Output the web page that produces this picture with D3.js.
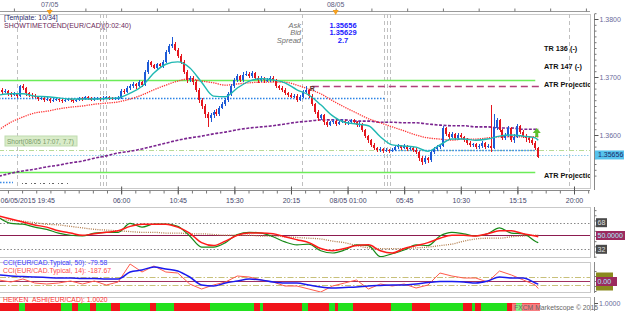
<!DOCTYPE html>
<html><head><meta charset="utf-8">
<script src="https://cdn.jsdelivr.net/npm/d3@7"></script>
<style>body{margin:0;background:#fff}svg{display:block}text{font-family:"Liberation Sans",Arial,sans-serif}</style>
</head><body><svg id="c" width="625" height="311"></svg>
<script>
// ---------- DATA ----------
const opens = [1.3680,1.3678,1.3674,1.3676,1.3671,1.3669,1.3671,1.3667,1.3684,1.3681,
1.3672,1.3669,1.3667,1.3666,1.3662,1.3664,1.3660,1.3662,1.3659,1.3660,
1.3662,1.3660,1.3659,1.3660,1.3662,1.3660,1.3659,1.3660,1.3664,1.3662,
1.3666,1.3664,1.3660,1.3662,1.3664,1.3662,1.3664,1.3666,1.3664,1.3662,
1.3664,1.3664,1.3676,1.3674,1.3681,1.3684,1.3688,1.3684,1.3691,1.3686,
1.3709,1.3726,1.3721,1.3716,1.3722,1.3719,1.3726,1.3743,1.3753,1.3757,
1.3747,1.3736,1.3726,1.3709,1.3695,1.3698,1.3691,1.3678,1.3660,1.3650,
1.3636,1.3629,1.3634,1.3640,1.3636,1.3647,1.3653,1.3660,1.3671,1.3684,
1.3695,1.3701,1.3695,1.3704,1.3706,1.3702,1.3707,1.3699,1.3695,1.3697,
1.3694,1.3695,1.3698,1.3694,1.3684,1.3681,1.3678,1.3672,1.3669,1.3666,
1.3667,1.3660,1.3666,1.3674,1.3678,1.3667,1.3653,1.3640,1.3629,1.3634,
1.3622,1.3617,1.3622,1.3624,1.3619,1.3622,1.3624,1.3621,1.3622,1.3626,
1.3622,1.3617,1.3619,1.3609,1.3598,1.3591,1.3583,1.3578,1.3574,1.3576,
1.3572,1.3574,1.3572,1.3574,1.3579,1.3581,1.3578,1.3581,1.3576,1.3578,
1.3574,1.3571,1.3560,1.3553,1.3560,1.3557,1.3571,1.3576,1.3579,1.3581,
1.3612,1.3602,1.3597,1.3602,1.3595,1.3600,1.3597,1.3591,1.3586,1.3583,
1.3584,1.3579,1.3581,1.3586,1.3579,1.3581,1.3578,1.3612,1.3626,1.3609,
1.3595,1.3600,1.3612,1.3591,1.3597,1.3615,1.3605,1.3598,1.3595,1.3591,
1.3586,1.3578];
const highs = [1.3684,1.3681,1.3679,1.3678,1.3674,1.3674,1.3673,1.3687,1.3688,1.3683,
1.3675,1.3672,1.3670,1.3668,1.3667,1.3666,1.3665,1.3664,1.3663,1.3664,
1.3664,1.3662,1.3663,1.3664,1.3664,1.3662,1.3662,1.3666,1.3666,1.3668,
1.3668,1.3666,1.3665,1.3666,1.3666,1.3667,1.3668,1.3668,1.3666,1.3666,
1.3667,1.3679,1.3680,1.3684,1.3688,1.3691,1.3690,1.3694,1.3693,1.3712,
1.3729,1.3728,1.3723,1.3725,1.3725,1.3729,1.3746,1.3757,1.3769,1.3760,
1.3750,1.3739,1.3729,1.3712,1.3702,1.3701,1.3694,1.3681,1.3663,1.3653,
1.3640,1.3638,1.3643,1.3644,1.3650,1.3657,1.3664,1.3674,1.3688,1.3699,
1.3705,1.3704,1.3708,1.3710,1.3709,1.3710,1.3709,1.3702,1.3701,1.3700,
1.3699,1.3702,1.3701,1.3696,1.3687,1.3684,1.3681,1.3675,1.3672,1.3670,
1.3670,1.3669,1.3677,1.3684,1.3680,1.3670,1.3656,1.3643,1.3637,1.3636,
1.3625,1.3625,1.3627,1.3626,1.3625,1.3627,1.3626,1.3625,1.3628,1.3628,
1.3624,1.3622,1.3621,1.3611,1.3600,1.3593,1.3586,1.3580,1.3579,1.3578,
1.3577,1.3576,1.3577,1.3582,1.3584,1.3583,1.3584,1.3583,1.3581,1.3580,
1.3577,1.3573,1.3563,1.3563,1.3562,1.3574,1.3579,1.3582,1.3584,1.3615,
1.3614,1.3605,1.3606,1.3604,1.3603,1.3603,1.3599,1.3594,1.3589,1.3587,
1.3586,1.3584,1.3589,1.3588,1.3584,1.3652,1.3636,1.3630,1.3628,1.3611,
1.3604,1.3616,1.3614,1.3601,1.3619,1.3617,1.3608,1.3601,1.3598,1.3594,
1.3589,1.3580];
const lows = [1.3674,1.3671,1.3672,1.3668,1.3666,1.3667,1.3663,1.3665,1.3678,1.3668,
1.3666,1.3664,1.3663,1.3659,1.3660,1.3657,1.3658,1.3656,1.3657,1.3658,
1.3657,1.3656,1.3657,1.3658,1.3657,1.3656,1.3657,1.3658,1.3659,1.3660,
1.3661,1.3658,1.3658,1.3660,1.3659,1.3660,1.3662,1.3661,1.3660,1.3660,
1.3661,1.3662,1.3671,1.3672,1.3678,1.3681,1.3680,1.3682,1.3682,1.3684,
1.3706,1.3718,1.3713,1.3714,1.3716,1.3716,1.3724,1.3740,1.3750,1.3744,
1.3733,1.3722,1.3705,1.3690,1.3692,1.3686,1.3674,1.3656,1.3645,1.3630,
1.3614,1.3622,1.3630,1.3632,1.3633,1.3644,1.3650,1.3657,1.3668,1.3681,
1.3692,1.3691,1.3692,1.3701,1.3699,1.3699,1.3695,1.3690,1.3692,1.3690,
1.3691,1.3692,1.3691,1.3681,1.3677,1.3675,1.3669,1.3665,1.3663,1.3663,
1.3657,1.3658,1.3664,1.3672,1.3664,1.3650,1.3636,1.3625,1.3626,1.3618,
1.3613,1.3615,1.3619,1.3616,1.3617,1.3620,1.3618,1.3618,1.3620,1.3619,
1.3614,1.3614,1.3605,1.3594,1.3587,1.3579,1.3574,1.3570,1.3571,1.3569,
1.3570,1.3569,1.3570,1.3572,1.3576,1.3575,1.3576,1.3573,1.3574,1.3571,
1.3567,1.3556,1.3548,1.3550,1.3551,1.3554,1.3568,1.3573,1.3576,1.3579,
1.3599,1.3593,1.3594,1.3591,1.3592,1.3593,1.3588,1.3583,1.3579,1.3580,
1.3576,1.3576,1.3578,1.3576,1.3577,1.3570,1.3576,1.3609,1.3605,1.3591,
1.3592,1.3597,1.3588,1.3587,1.3594,1.3601,1.3594,1.3588,1.3587,1.3583,
1.3574,1.3560];
const closes = [1.3678,1.3674,1.3676,1.3671,1.3669,1.3671,1.3667,1.3684,1.3681,1.3672,
1.3669,1.3667,1.3666,1.3662,1.3664,1.3660,1.3662,1.3659,1.3660,1.3662,
1.3660,1.3659,1.3660,1.3662,1.3660,1.3659,1.3660,1.3664,1.3662,1.3666,
1.3664,1.3660,1.3662,1.3664,1.3662,1.3664,1.3666,1.3664,1.3662,1.3664,
1.3664,1.3676,1.3674,1.3681,1.3684,1.3688,1.3684,1.3691,1.3686,1.3709,
1.3726,1.3721,1.3716,1.3722,1.3719,1.3726,1.3743,1.3753,1.3757,1.3747,
1.3736,1.3726,1.3709,1.3695,1.3698,1.3691,1.3678,1.3660,1.3650,1.3636,
1.3629,1.3634,1.3640,1.3636,1.3647,1.3653,1.3660,1.3671,1.3684,1.3695,
1.3701,1.3695,1.3704,1.3706,1.3702,1.3707,1.3699,1.3695,1.3697,1.3694,
1.3695,1.3698,1.3694,1.3684,1.3681,1.3678,1.3672,1.3669,1.3666,1.3667,
1.3660,1.3666,1.3674,1.3678,1.3667,1.3653,1.3640,1.3629,1.3634,1.3622,
1.3617,1.3622,1.3624,1.3619,1.3622,1.3624,1.3621,1.3622,1.3626,1.3622,
1.3617,1.3619,1.3609,1.3598,1.3591,1.3583,1.3578,1.3574,1.3576,1.3572,
1.3574,1.3572,1.3574,1.3579,1.3581,1.3578,1.3581,1.3576,1.3578,1.3574,
1.3571,1.3560,1.3553,1.3560,1.3557,1.3571,1.3576,1.3579,1.3581,1.3612,
1.3602,1.3597,1.3602,1.3595,1.3600,1.3597,1.3591,1.3586,1.3583,1.3584,
1.3579,1.3581,1.3586,1.3579,1.3581,1.3578,1.3612,1.3626,1.3609,1.3595,
1.3600,1.3612,1.3591,1.3597,1.3615,1.3605,1.3598,1.3595,1.3591,1.3586,
1.3578,1.35629];

// indicator sample bars
const maIdx = [0,4,8,12,16,20,24,28,32,36,40,44,48,52,56,60,64,68,72,76,80,84,88,92,96,100,
104,108,112,116,120,124,128,132,136,140,144,148,152,156,160,164,168,172,176,180,181];
const maFast = [1.3669,1.3671,1.3671,1.3667,1.3666,1.3664,1.3662,1.3662,1.3662,1.3663,1.3664,1.3672,
1.3684,1.3707,1.3722,1.3726,1.3716,1.3691,1.3667,1.3666,1.3681,1.3693,1.3697,1.3695,1.3690,1.3678,
1.3669,1.3652,1.3633,1.3622,1.3619,1.3616,1.3597,1.3583,1.3581,1.3579,1.3572,1.3583,1.3593,1.3593,
1.3591,1.3593,1.3598,1.3600,1.3598,1.3595,1.3591];
const maMid = [1.3609,1.3622,1.3631,1.3638,1.3641,1.3645,1.3648,1.3650,1.3653,1.3655,1.3657,1.3662,
1.3669,1.3678,1.3686,1.3693,1.3697,1.3693,1.3690,1.3686,1.3688,1.3690,1.3691,1.3691,1.3691,1.3686,
1.3679,1.3671,1.3659,1.3648,1.3638,1.3628,1.3621,1.3614,1.3607,1.3600,1.3595,1.3593,1.3591,1.3593,
1.3593,1.3595,1.3597,1.3597,1.3597,1.3597,1.3597];
const maSlow = [1.3529,1.3534,1.3538,1.3541,1.3545,1.3548,1.3552,1.3555,1.3560,1.3564,1.3569,1.3572,
1.3576,1.3581,1.3586,1.3591,1.3595,1.3598,1.3602,1.3605,1.3609,1.3612,1.3614,1.3616,1.3619,1.3622,
1.3624,1.3626,1.3626,1.3626,1.3624,1.3624,1.3622,1.3622,1.3621,1.3621,1.3619,1.3617,1.3616,1.3616,
1.3614,1.3614,1.3612,1.3612,1.3610,1.3610,1.3610];
const oscFast = [75,67,66,62,59,54,51,50,54,55,55,67,62,66,66,63,50,35,35,41,52,55,54,49,42,38,39,30,
27,31,38,37,22,26,31,38,37,50,55,53,50,53,61,54,53,43,41];
const oscMid = [77,73,69,65,62,57,54,51,53,55,57,63,66,66,66,62,54,41,37,43,51,54,54,53,49,45,41,33,
30,33,37,38,30,27,33,37,41,47,51,51,50,53,57,57,53,50,49];
const oscSlow = [73,71,70,68,66,65,63,61,59,58,57,56,55,55,54,54,53,53,52,51,51,51,50,50,49,48,47,46,
43,41,37,34,33,33,33,34,35,37,39,43,46,47,47,49,50,51,51];
const cci50 = [150,125,112,100,88,75,75,62,62,50,50,225,275,350,300,250,100,-100,-125,-50,0,50,25,-25,
-50,-50,-100,-150,-175,-162,-150,-125,-112,-100,-100,-75,-38,-12,-12,-25,-50,0,100,75,75,-50,-79.58];
const cci14 = [25,-25,50,-50,-75,-50,0,-75,0,-100,-25,425,225,375,225,200,-75,-200,-100,-25,125,100,25,
-25,-125,-125,-200,-275,-125,-50,25,-200,-75,-125,-75,-175,-100,200,125,75,75,-25,250,150,25,-100,-187.67];
const haColors = "RRRRRRR GG RRRRRRRRRRRR GGGG RR GGGG RR GGGGG RRR GGGGGGGGGG RR GGGGGG RRRRRRRRRRRR GGGGGGGGGGGGGGG RR G RRRRRRRRRRRRR GG RRRRRRR GG R GGGGG RRRRRRRRRRRRR GGGGGGG RRRRRR GGGGGGGGGGG RRR G RR GGGGGGGGG RRR GG RRRRRR";

// levels: price, from bar, to bar
const atrUpper = [1.36948, 0, 180];
const atrLower = [1.35362, 0, 180];
const rLevel = [1.36845, 105, 181.6];
const blueLevel1 = [1.36638, 0, 129.5];
const blueLevel2 = [1.35741, 131, 180];
const entryLevel = [1.35733, 0, 200];
const askLevel = [1.35656, 0, 200];
const sessionBars = [6, 33.9, 34.9, 35.9, 101.7, 129.2, 130.2, 131.2, 191.3];

const priceTicks = [1.38, 1.37, 1.36];
const oscLevels = [68, 32];
const timeLabelBars = [0, 41, 60, 79, 98, 117, 136, 155, 174, 193];
const timeLabels = ["06/05/2015 19:45","06:00","10:45","15:30","20:15","08/05 01:00","05:45","10:30","15:15","20:00"];
const dayBars = [17, 113];
const dayLabels = ["07/05","08/05"];
const quoteNames = ["Ask","Bid","Spread"];
const quoteValues = ["1.35656","1.35629","2.7"];
const atrTexts = ["TR 136 (-)","ATR 147 (-)","ATR Projection","ATR Projection"];

// ---------- DRAW ----------
const svg = d3.select('#c');
svg.append('rect').attr('width',625).attr('height',311).attr('fill','#fff');
const F = '"Liberation Sans",Arial,sans-serif';
const x = d3.scaleLinear().domain([0,193]).range([-1,574]);
const y = d3.scaleLinear().domain([1.36,1.38]).range([135,19]);
const yO = d3.scaleLinear().domain([32,68]).range([249.3,222.7]);
const yC = d3.scaleLinear().domain([0,100]).range([281,277]);
const R = 590;

const defs = svg.append('defs');
function clip(id, y0, y1){ defs.append('clipPath').attr('id',id).append('rect').attr('x',0).attr('y',y0).attr('width',R).attr('height',y1-y0); }
clip('cm',14,188); clip('c1',207,257); clip('c2',262,292); clip('c3',297,311);

// frames
[[14,188],[207,257],[262,292],[297,312]].forEach(([a,b])=>{
  svg.append('rect').attr('x',-1).attr('y',a+0.5).attr('width',R+1.5).attr('height',b-a).attr('fill','none').attr('stroke','#c9c9c9');
});

// top axis
svg.append('line').attr('x1',0).attr('x2',R).attr('y1',11.5).attr('y2',11.5).attr('stroke','#9a9a9a');
const topAx = svg.append('g').attr('transform','translate(0,11.5)')
  .call(d3.axisTop(x).tickValues(d3.range(5,198,12)).tickSize(3).tickFormat(''));
topAx.select('.domain').remove(); topAx.selectAll('line').attr('stroke','#777');
dayBars.forEach((b,i)=>{
  svg.append('text').attr('x',x(b)).attr('y',7).attr('text-anchor','middle').attr('font-size',7).attr('fill','#5a5a80').text(dayLabels[i]);
  svg.append('path').attr('d',`M${x(b)-3},10 L${x(b)+3},10 L${x(b)},15 Z`).attr('fill','#f5a020');
});

const gm = svg.append('g').attr('clip-path','url(#cm)');
// session lines
sessionBars.forEach(b=>{
  gm.append('line').attr('x1',Math.round(x(b))+0.5).attr('x2',Math.round(x(b))+0.5).attr('y1',14).attr('y2',188)
    .attr('stroke','#c0c0c0').attr('stroke-dasharray','4,3');
});
function level(l, color, dash, w){
  gm.append('line').attr('x1',x(l[1])).attr('x2',x(l[2])).attr('y1',Math.round(y(l[0]))+0.5).attr('y2',Math.round(y(l[0]))+0.5)
    .attr('stroke',color).attr('stroke-width',w).attr('stroke-dasharray',dash);
}
level(entryLevel,'#b9dc98','5,2,1,2',1);
level(askLevel,'#8dcdea','1.5,1.5',1);
level(atrUpper,'#6cec58',null,1.6);
level(atrLower,'#6cec58',null,1.6);
level(rLevel,'#b0407a','7,4',1.3);
level(blueLevel1,'#2b83e6','1.5,1.5',1.4);
level(blueLevel2,'#2b83e6','1.5,1.5',1.4);
gm.append('line').attr('x1',0).attr('x2',13).attr('y1',182.5).attr('y2',182.5).attr('stroke','#3a8ae6').attr('stroke-dasharray','1.5,1.5').attr('stroke-width',1.4);
gm.append('line').attr('x1',22).attr('x2',70).attr('y1',183.5).attr('y2',183.5).attr('stroke','#666').attr('stroke-dasharray','1,2,2,4').attr('stroke-width',1);

// MAs
const lineP = d3.line().x((d,i)=>x(maIdx[i])).y(d=>y(d)).curve(d3.curveMonotoneX);
gm.append('path').attr('d',lineP(maSlow)).attr('fill','none').attr('stroke','#7b2590').attr('stroke-width',1.6).attr('stroke-dasharray','3,1.5');
gm.append('path').attr('d',lineP(maMid)).attr('fill','none').attr('stroke','#ff3535').attr('stroke-width',1.3).attr('stroke-dasharray','1.3,1');

// candles
const cg = gm.append('g').attr('shape-rendering','crispEdges');
closes.forEach((c,i)=>{
  const o = opens[i], up = c>=o, col = up ? '#1d5ad6' : '#e4161e';
  const cx = Math.round(x(i));
  cg.append('rect').attr('x',cx).attr('y',y(highs[i])).attr('width',1).attr('height',Math.max(1,y(lows[i])-y(highs[i]))).attr('fill',col);
  const t = y(Math.max(o,c)), b = y(Math.min(o,c));
  cg.append('rect').attr('x',cx-1).attr('y',t).attr('width',2).attr('height',Math.max(1,b-t)).attr('fill',col);
});
gm.append('path').attr('d',lineP(maFast)).attr('fill','none').attr('stroke','#1fb8b2').attr('stroke-width',1.4);

// markers
gm.append('text').attr('x',x(105)-2).attr('y',91).attr('font-size',7).attr('font-weight','bold').attr('fill','#5a2a2a').text('R');
const ax = x(180.5), ay = 133;
gm.append('path').attr('d',`M${ax},${ay-5} L${ax+4},${ay} L${ax+1.5},${ay} L${ax+1.5},${ay+4} L${ax-1.5},${ay+4} L${ax-1.5},${ay} L${ax-4},${ay} Z`).attr('fill','#5cc02c');

// short box
svg.append('rect').attr('x',5).attr('y',136).attr('width',72).attr('height',10).attr('fill','#d9ecc9').attr('stroke','#c0dcb0');
svg.append('text').attr('x',7).attr('y',143.5).attr('font-size',6.5).attr('fill','#7a9a6a').text('Short(08/05 17:07, 7.7)');

// texts
svg.append('text').attr('x',4).attr('y',19.5).attr('font-size',7).attr('fill','#2a2a6a').text('[Template: 10/34]');
svg.append('text').attr('x',4).attr('y',27.5).attr('font-size',7).attr('fill','#6a2a5a').text('SHOWTIMETOEND(EUR/CAD)(0:02:40)');
quoteNames.forEach((n,i)=>{
  svg.append('text').attr('x',301).attr('y',27.5+i*7.5).attr('text-anchor','end').attr('font-size',7.5).attr('font-style','italic').attr('fill','#707070').text(n);
  svg.append('text').attr('x',343).attr('y',27.5+i*7.5).attr('text-anchor','middle').attr('font-size',7.5).attr('font-weight','bold').attr('fill','#1a1aff').text(quoteValues[i]);
});
const atrY = [50.5, 68.5, 87, 178];
atrTexts.forEach((t,i)=>{
  gm.append('text').attr('x',544).attr('y',atrY[i]).attr('font-size',7.3).attr('font-weight','bold').attr('fill','#111').text(t);
});

// price axis
svg.append('line').attr('x1',594.5).attr('x2',594.5).attr('y1',14).attr('y2',190).attr('stroke','#8a8a8a');
const pm = svg.append('g').attr('transform','translate(594.5,0)').call(d3.axisRight(y).tickValues(d3.range(1.353,1.3815,0.001)).tickSize(2).tickFormat(''));
pm.select('.domain').remove(); pm.selectAll('line').attr('stroke','#777');
const pM = svg.append('g').attr('transform','translate(594.5,0)').call(d3.axisRight(y).tickValues(priceTicks).tickSize(4).tickFormat(d3.format('.4f')));
pM.select('.domain').remove(); pM.selectAll('line').attr('stroke','#555');
pM.selectAll('text').attr('x',5).attr('font-size',7).attr('font-family',F).attr('fill','#6a6a9a');
svg.append('rect').attr('x',595).attr('y',y(askLevel[0])-4.5).attr('width',29).attr('height',9).attr('fill','#56c2ec');
svg.append('text').attr('x',598).attr('y',y(askLevel[0])+2.5).attr('font-size',7).attr('fill','#1a2a6a').text(quoteValues[0]);

// time axis
svg.append('line').attr('x1',0).attr('x2',R).attr('y1',190.5).attr('y2',190.5).attr('stroke','#8a8a8a');
const tm = svg.append('g').attr('transform','translate(0,190.5)').call(d3.axisBottom(x).tickValues(d3.range(3,198,4.75)).tickSize(3).tickFormat(''));
tm.select('.domain').remove(); tm.selectAll('line').attr('stroke','#777');
const tM = svg.append('g').attr('transform','translate(0,190.5)').call(d3.axisBottom(x).tickValues(timeLabelBars).tickSize(4).tickFormat((d,i)=>timeLabels[i]));
tM.select('.domain').remove(); tM.selectAll('line').attr('stroke','#555').attr('y1',-4);
tM.selectAll('text').attr('y',8).attr('font-size',7).attr('font-family',F).attr('fill','#45456a');
tM.selectAll('text').filter((d,i)=>i===0).attr('text-anchor','start').attr('dx',1);

// ---------- panel 1 ----------
const g1 = svg.append('g').attr('clip-path','url(#c1)');
oscLevels.forEach(v=>g1.append('line').attr('x1',0).attr('x2',R).attr('y1',Math.round(yO(v))+0.5).attr('y2',Math.round(yO(v))+0.5).attr('stroke','#888').attr('stroke-dasharray','1.5,2'));
g1.append('line').attr('x1',0).attr('x2',R).attr('y1',235.5).attr('y2',235.5).attr('stroke','#8c1c50').attr('stroke-width',1.2);
const lO = d3.line().x((d,i)=>x(maIdx[i])).y(d=>yO(d)).curve(d3.curveMonotoneX);
g1.append('path').attr('d',lO(oscSlow)).attr('fill','none').attr('stroke','#b07a48').attr('stroke-width',1.3).attr('stroke-dasharray','1,1.2');
g1.append('path').attr('d',lO(oscFast)).attr('fill','none').attr('stroke','#188a18').attr('stroke-width',1.2);
g1.append('path').attr('d',lO(oscMid)).attr('fill','none').attr('stroke','#ff1a1a').attr('stroke-width',1.5);
svg.append('line').attr('x1',594.5).attr('x2',594.5).attr('y1',207).attr('y2',258).attr('stroke','#8a8a8a');
const o1 = svg.append('g').attr('transform','translate(594.5,0)').call(d3.axisRight(yO).tickValues(d3.range(22,89,7)).tickSize(2).tickFormat(''));
o1.select('.domain').remove(); o1.selectAll('line').attr('stroke','#777');
function tag(xp, yp, w, txt, bg, fg){
  svg.append('rect').attr('x',xp).attr('y',yp-4.5).attr('width',w).attr('height',9).attr('fill',bg);
  svg.append('text').attr('x',xp+1.5).attr('y',yp+2.5).attr('font-size',7).attr('fill',fg).text(txt);
}
tag(596, yO(68), 11, '68', '#4a4a4a', '#e0e0e0');
tag(596, yO(32), 11, '32', '#4a4a4a', '#e0e0e0');
tag(596, 235.5, 29, '50.0000', '#9c2a5e', '#a8f0ff');

// ---------- panel 2 ----------
const g2 = svg.append('g').attr('clip-path','url(#c2)');
[100,-100].forEach(v=>g2.append('line').attr('x1',0).attr('x2',R).attr('y1',Math.round(yC(v))+0.5).attr('y2',Math.round(yC(v))+0.5).attr('stroke','#c8c07a').attr('stroke-width',1.2).attr('stroke-dasharray','6,2,1.5,2'));
g2.append('line').attr('x1',0).attr('x2',R).attr('y1',281.5).attr('y2',281.5).attr('stroke','#a03060').attr('stroke-width',1.2);
const lC = d3.line().x((d,i)=>x(maIdx[i])).y(d=>yC(d)).curve(d3.curveLinear);
g2.append('path').attr('d',lC(cci14)).attr('fill','none').attr('stroke','#ff5a4a').attr('stroke-width',1);
g2.append('path').attr('d',d3.line().x((d,i)=>x(maIdx[i])).y(d=>yC(d)).curve(d3.curveMonotoneX)(cci50)).attr('fill','none').attr('stroke','#1a1aee').attr('stroke-width',1.5);
svg.append('text').attr('x',3).attr('y',265).attr('font-size',6.8).attr('fill','#3a3aff').text('CCI(EUR/CAD.Typical, 50): -79.58');
svg.append('text').attr('x',3).attr('y',272.5).attr('font-size',6.8).attr('fill','#ff4a4a').text('CCI(EUR/CAD.Typical, 14): -187.67');
svg.append('line').attr('x1',594.5).attr('x2',594.5).attr('y1',262).attr('y2',293).attr('stroke','#8a8a8a');
const o2 = svg.append('g').attr('transform','translate(594.5,0)').call(d3.axisRight(yC).tickValues(d3.range(-250,300,125)).tickSize(2).tickFormat(''));
o2.select('.domain').remove(); o2.selectAll('line').attr('stroke','#777');
tag(596, yC(100), 17, '', '#8a8a1e', '#fff');
tag(596, yC(-100)+1, 17, '', '#8a8a1e', '#fff');
tag(596, 281.5, 21, '0.00', '#9c2a5e', '#a8f0ff');

// ---------- panel 3 ----------
const g3 = svg.append('g').attr('clip-path','url(#c3)').attr('shape-rendering','crispEdges');
const ha = haColors.replace(/ /g,'').split('');
ha.forEach((c,i)=>{
  g3.append('rect').attr('x',Math.round(x(i))-1).attr('y',303).attr('width',2.6).attr('height',8).attr('fill', c==='G' ? '#22e01e' : '#f0141a');
});
svg.append('text').attr('x',3).attr('y',302).attr('font-size',6.8).attr('fill','#ff3030').text('HEIKEN_ASHI(EUR/CAD): 1.0020');
svg.append('rect').attr('x',512).attr('y',303.5).attr('width',76).attr('height',8).attr('fill','#fff').attr('opacity',0.45);
svg.append('text').attr('x',514).attr('y',310).attr('font-size',6.8).attr('fill','#666').text('FXCM Marketscope © 2015');
svg.append('line').attr('x1',594.5).attr('x2',594.5).attr('y1',297).attr('y2',311).attr('stroke','#8a8a8a');
svg.append('line').attr('x1',594.5).attr('x2',598).attr('y1',303.5).attr('y2',303.5).attr('stroke','#555');
svg.append('text').attr('x',599).attr('y',306).attr('font-size',7).attr('fill','#6a6a9a').text('1.0000');
</script></body></html>
